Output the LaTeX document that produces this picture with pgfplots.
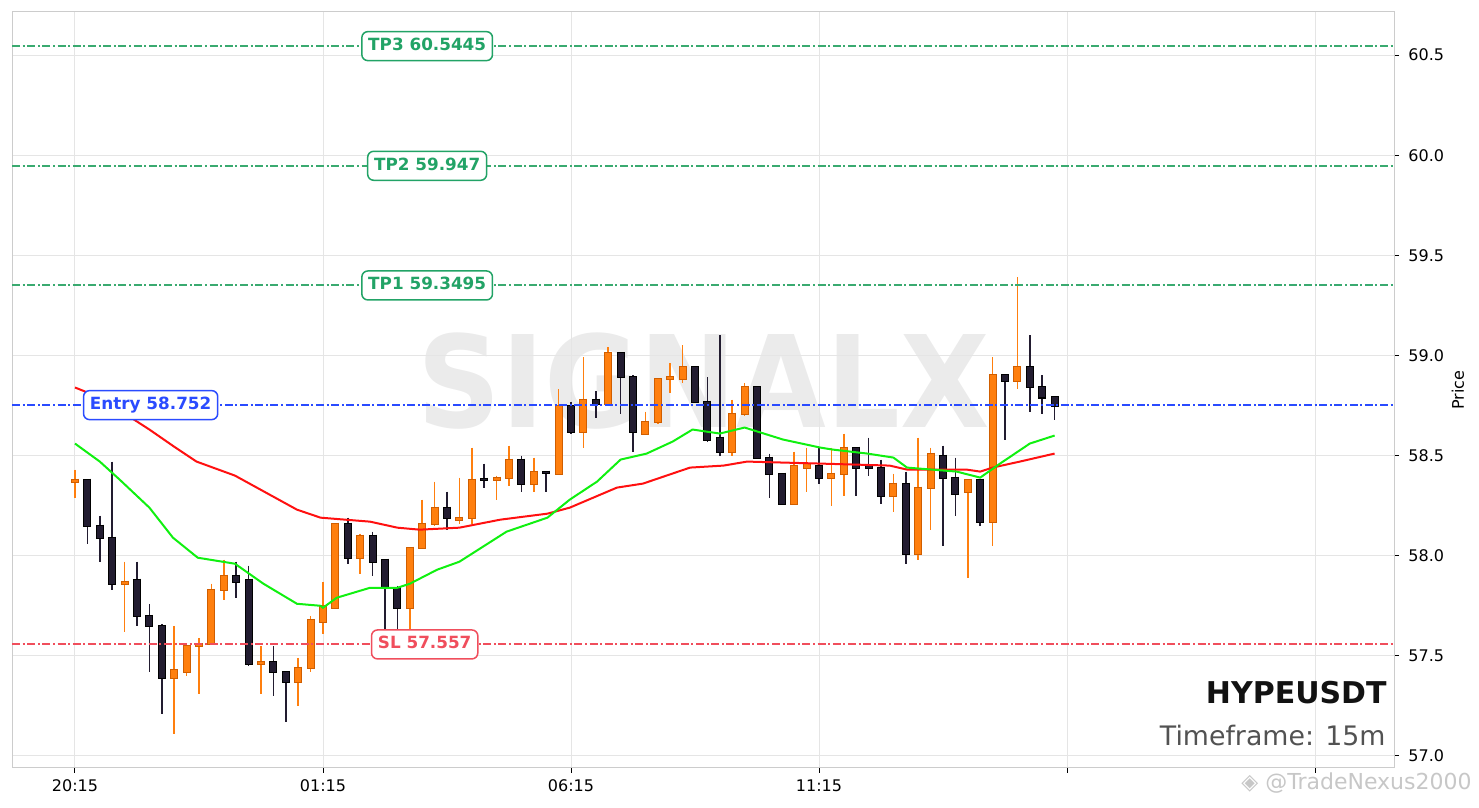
\documentclass[border=0pt]{standalone}
\usepackage{fontspec}
\setmainfont{DejaVu Sans}
\usepackage{pgfplots}
\usepackage{pgfplotstable}
\pgfplotsset{compat=1.18}

\definecolor{upfill}{HTML}{FF7F0E}
\definecolor{upedge}{HTML}{D05E00}
\definecolor{dnfill}{HTML}{221C30}
\definecolor{dnedge}{HTML}{000000}
\definecolor{emag}{HTML}{10F010}
\definecolor{emar}{HTML}{FF1010}
\definecolor{tpc}{HTML}{22A366}
\definecolor{tpline}{HTML}{3AAA70}
\definecolor{entryc}{HTML}{2A4BFF}
\definecolor{slc}{HTML}{F04E5C}

% candles: index, open, high, low, close
\pgfplotstableread{
i o h l c
0 58.37 58.43 58.29 58.38
4 57.86 57.97 57.62 57.87
8 57.39 57.65 57.11 57.43
9 57.42 57.56 57.40 57.55
10 57.55 57.59 57.31 57.56
11 57.56 57.86 57.56 57.83
12 57.83 57.98 57.78 57.90
15 57.46 57.55 57.31 57.47
18 57.37 57.49 57.25 57.44
19 57.44 57.70 57.42 57.68
20 57.67 57.87 57.61 57.75
21 57.74 58.16 57.74 58.16
23 57.99 58.11 57.91 58.10
27 57.74 58.04 57.63 58.04
28 58.04 58.28 58.04 58.16
29 58.16 58.37 58.15 58.24
31 58.18 58.39 58.16 58.19
32 58.19 58.54 58.16 58.38
34 58.38 58.40 58.28 58.39
35 58.39 58.55 58.35 58.48
37 58.36 58.49 58.32 58.42
39 58.41 58.83 58.41 58.75
41 58.62 58.99 58.54 58.78
43 58.76 59.04 58.75 59.01
46 58.61 58.72 58.61 58.67
47 58.67 58.88 58.66 58.88
48 58.88 58.96 58.81 58.89
49 58.88 59.05 58.86 58.94
53 58.52 58.78 58.50 58.71
54 58.71 58.86 58.70 58.84
58 58.26 58.52 58.26 58.45
59 58.44 58.54 58.32 58.46
61 58.39 58.54 58.25 58.41
62 58.41 58.61 58.30 58.54
66 58.30 58.41 58.22 58.36
68 58.01 58.59 57.98 58.34
69 58.34 58.54 58.13 58.51
72 58.32 58.38 57.89 58.38
74 58.17 58.99 58.05 58.90
76 58.87 59.39 58.83 58.94
}\upcandles

\pgfplotstableread{
i o h l c
1 58.38 58.38 58.06 58.15
2 58.15 58.20 57.97 58.09
3 58.09 58.47 57.83 57.86
5 57.88 57.97 57.65 57.70
6 57.70 57.76 57.42 57.65
7 57.65 57.66 57.21 57.39
13 57.90 57.97 57.79 57.87
14 57.88 57.95 57.45 57.46
16 57.47 57.55 57.30 57.42
17 57.42 57.42 57.17 57.37
22 58.16 58.19 57.96 57.99
24 58.10 58.12 57.90 57.97
25 57.98 57.98 57.62 57.84
26 57.84 57.85 57.58 57.74
30 58.24 58.32 58.13 58.19
33 58.385 58.46 58.34 58.38
36 58.48 58.50 58.32 58.36
38 58.42 58.42 58.32 58.415
40 58.75 58.77 58.61 58.62
42 58.78 58.82 58.69 58.76
44 59.01 59.01 58.71 58.89
45 58.89 58.90 58.52 58.62
50 58.94 58.94 58.77 58.77
51 58.77 58.89 58.57 58.58
52 58.59 59.10 58.50 58.52
55 58.84 58.84 58.49 58.49
56 58.49 58.51 58.29 58.41
57 58.41 58.41 58.26 58.26
60 58.45 58.54 58.36 58.39
63 58.54 58.54 58.30 58.44
64 58.45 58.59 58.40 58.44
65 58.44 58.48 58.26 58.30
67 58.36 58.42 57.96 58.01
70 58.50 58.55 58.05 58.39
71 58.39 58.49 58.20 58.31
73 58.38 58.38 58.15 58.17
75 58.90 58.90 58.58 58.87
77 58.94 59.10 58.72 58.84
78 58.84 58.90 58.71 58.79
79 58.79 58.79 58.68 58.75
}\dncandles

\pgfplotsset{
  ebar/.style 2 args={draw=none, mark=none,
    error bars/.cd, y dir=minus, y explicit, error mark=none,
    error bar style={draw=#1, line width=#2, solid}},
  level/.style={color=#1, line width=1pt, dash pattern=on 4pt off 1.3pt on 1pt off 1.3pt},
}
\tikzset{lbl/.style={draw=#1, text=#1, fill=white, rounded corners=3pt,
  line width=0.75pt, font=\bfseries\fontsize{8.4}{10}\selectfont,
  inner xsep=3.2pt, inner ysep=3.2pt, text height=6.3pt, text depth=1.8pt}}

\begin{document}
\begin{tikzpicture}
\path[use as bounding box] (0,0) rectangle (739.5pt,404pt);
\node[text=black!8, font=\bfseries\fontsize{58}{60}\selectfont,
  yscale=1.1, transform shape, text depth=0pt] at (352pt,213.75pt) {SIGNALX};

\begin{axis}[
  at={(6pt,20pt)}, anchor=south west,
  scale only axis, width=691pt, height=378pt,
  xmin=-5.08, xmax=106.37, ymin=56.94, ymax=60.715,
  axis line style={draw=black!20, line width=0.5pt},
  grid=major, major grid style={draw=black!10, line width=0.5pt},
  xtick={0,20,40,60,80,100},
  xticklabels={20:15,01:15,06:15,11:15,,},
  ytick={57,57.5,58,58.5,59,59.5,60,60.5},
  yticklabel pos=right, ytick pos=right, xtick pos=bottom,
  tick align=outside, major tick length=2.5pt,
  tick style={draw=black, line width=0.5pt},
  ticklabel style={font=\fontsize{8}{9}\selectfont},
  yticklabel style={xshift=1.2pt, /pgf/number format/.cd, fixed, fixed zerofill, precision=1},
  /pgf/number format/assume math mode=true,
]
% wicks
\addplot[ebar={upfill}{0.8pt}] table[x=i, y=h, y error minus expr=\thisrow{h}-\thisrow{l}] {\upcandles};
\addplot[ebar={dnfill}{0.8pt}] table[x=i, y=h, y error minus expr=\thisrow{h}-\thisrow{l}] {\dncandles};
% bodies: darker outline, then fill
\addplot[ebar={upedge}{4pt}] table[x=i, y expr={max(\thisrow{o},\thisrow{c})+0.005},
  y error minus expr={abs(\thisrow{c}-\thisrow{o})+0.01}] {\upcandles};
\addplot[ebar={upfill}{3pt}] table[x=i, y expr={max(\thisrow{o},\thisrow{c})},
  y error minus expr={abs(\thisrow{c}-\thisrow{o})}] {\upcandles};
\addplot[ebar={dnedge}{4pt}] table[x=i, y expr={max(\thisrow{o},\thisrow{c})+0.005},
  y error minus expr={abs(\thisrow{c}-\thisrow{o})+0.01}] {\dncandles};
\addplot[ebar={dnfill}{3pt}] table[x=i, y expr={max(\thisrow{o},\thisrow{c})},
  y error minus expr={abs(\thisrow{c}-\thisrow{o})}] {\dncandles};

% moving averages
\addplot[emar, line width=1pt] coordinates {
(0,58.84) (2,58.79) (4,58.71) (6,58.63) (8.1,58.54) (9.8,58.47) (12.9,58.40)
(17.9,58.23) (19.8,58.19) (23.8,58.17) (26,58.14) (27.8,58.13) (31,58.14)
(34.3,58.18) (38.1,58.21) (39.9,58.24) (43.7,58.34) (45.8,58.36) (49.6,58.44)
(52.3,58.45) (54.2,58.47) (60.1,58.46) (65.7,58.45) (67.1,58.43) (71.9,58.43)
(73,58.42) (74,58.44) (76.2,58.47) (79,58.51)};
\addplot[emag, line width=1pt] coordinates {
(0,58.56) (2,58.47) (3.6,58.38) (6,58.24) (7.9,58.09) (9.9,57.99) (12.9,57.96)
(15.2,57.86) (17.9,57.76) (19.8,57.75) (20,57.74) (21.1,57.79) (23.8,57.84)
(26,57.84) (27,57.86) (29.2,57.93) (31,57.97) (34.8,58.12) (38.1,58.19)
(39.9,58.28) (42.1,58.37) (44,58.48) (46.1,58.51) (48.2,58.57) (49.8,58.63)
(52,58.61) (54,58.64) (57.1,58.58) (60.1,58.54) (61.1,58.53) (63.9,58.51)
(66,58.49) (67.1,58.44) (71.1,58.42) (73,58.39) (74.6,58.46) (77,58.56) (79,58.60)};

% levels
\addplot[level=tpline] coordinates {(-5.08,60.5445) (106.37,60.5445)};
\addplot[level=tpline] coordinates {(-5.08,59.947) (106.37,59.947)};
\addplot[level=tpline] coordinates {(-5.08,59.3495) (106.37,59.3495)};
\addplot[level=entryc] coordinates {(-5.08,58.752) (106.37,58.752)};
\addplot[level=slc] coordinates {(-5.08,57.557) (106.37,57.557)};

\node[lbl=tpc] at (axis cs:28.4,60.5445) {TP3 60.5445};
\node[lbl=tpc] at (axis cs:28.4,59.947) {TP2 59.947};
\node[lbl=tpc] at (axis cs:28.4,59.3495) {TP1 59.3495};
\node[lbl=entryc] at (axis cs:6.1,58.752) {Entry 58.752};
\node[lbl=slc] at (axis cs:28.2,57.557) {SL 57.557};
\end{axis}

\node[anchor=base east, inner sep=0pt, text=black!93, font=\bfseries\fontsize{15}{17}\selectfont]
  at (693.5pt,52pt) {HYPEUSDT};
\node[anchor=base east, inner sep=0pt, text=black!68, font=\fontsize{13.4}{15}\selectfont]
  at (693pt,31pt) {Timeframe: 15m};
\node[rotate=90, font=\fontsize{8}{9}\selectfont] at (729pt,209pt) {Price};
\node[anchor=east, inner sep=0pt, text=black!22, font=\fontsize{11}{12}\selectfont]
  at (736pt,12.5pt) {◈ @TradeNexus2000};
\end{tikzpicture}
\end{document}
